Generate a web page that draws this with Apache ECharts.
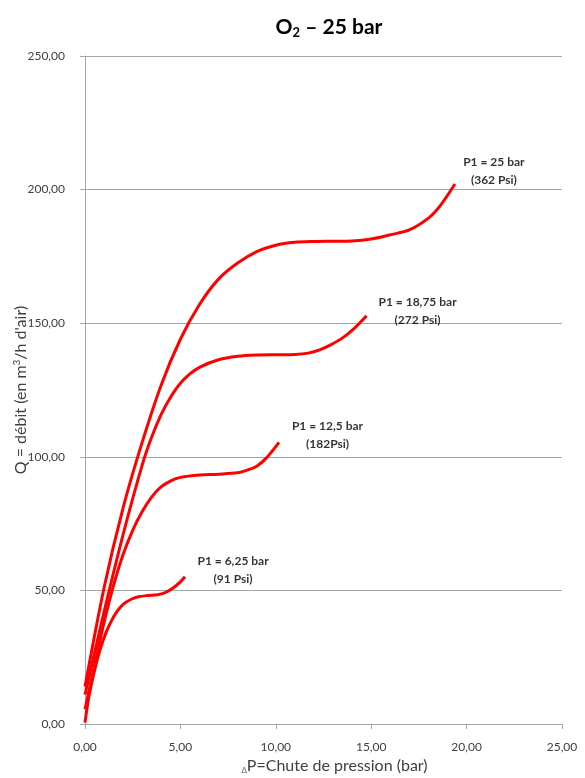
<!DOCTYPE html>
<html>
<head>
<meta charset="utf-8">
<script src="https://cdn.jsdelivr.net/npm/echarts@6/dist/echarts.min.js"></script>
<style>
html,body{margin:0;padding:0;background:#fff;}
#chart{width:585px;height:778px;}
</style>
</head>
<body>
<div id="chart"></div>
<script>
// Data (x = ΔP bar, y = Q m3/h)
var p25x = [0, 1, 2, 3, 4, 5, 6, 7, 8, 9, 10, 11, 12, 13, 14, 15, 16, 17, 18, 18.6, 19.39];
var p25y = [14, 51, 81, 105.5, 127, 144, 157, 166.5, 172.5, 176.8, 179.2, 180.3, 180.6, 180.7, 180.8, 181.5, 183.1, 184.9, 189.3, 193.8, 202.1];

var p1875x = [0, 1, 2, 3, 3.5, 4, 4.5, 5, 5.5, 6, 7, 8, 9, 10, 11, 11.7, 12.3, 12.9, 13.5, 14.1, 14.76];
var p1875y = [11, 42, 71, 97, 107.5, 116, 122.5, 127.5, 131, 133.5, 136.3, 137.6, 138.1, 138.2, 138.3, 138.8, 140, 142, 144.5, 148, 152.8];

var p125x = [0, 0.5, 1, 1.5, 2, 2.5, 3, 3.5, 4, 4.5, 5, 6, 7, 8, 8.5, 9, 9.5, 10.17];
var p125y = [5.5, 22, 38, 52, 63.5, 72.5, 79.5, 85, 88.8, 91, 92.3, 93.2, 93.5, 94, 95, 96.5, 99.5, 105.4];

var p625x = [0, 0.2, 0.5, 0.8, 1.1, 1.4, 1.7, 2.0, 2.4, 2.8, 3.3, 3.8, 4.2, 4.6, 5.0, 5.24];
var p625y = [0.5, 10, 20, 28, 34.2, 38.8, 42.3, 44.8, 46.6, 47.6, 48.1, 48.4, 49.2, 50.8, 53.2, 55.1];

// Annotations
var noteX = [21.43, 17.43, 12.71, 7.76];
var noteY = [207, 154.6, 108.2, 57.6];
var noteL1 = ['P1 = 25 bar', 'P1 = 18,75 bar', 'P1 = 12,5 bar', 'P1 = 6,25 bar'];
var noteL2 = ['(362 Psi)', '(272 Psi)', '(182Psi)', '(91 Psi)'];

var xTicks = {min: 0, max: 25, interval: 5};
var yTicks = {min: 0, max: 250, interval: 50};

function pairs(xs, ys) { return xs.map(function (x, i) { return [x, ys[i]]; }); }

var FONT = 'Lato, "Open Sans", sans-serif';
var chart = echarts.init(document.getElementById('chart'), null, {renderer: 'canvas'});

function curve(xs, ys) {
  return {
    type: 'line', data: pairs(xs, ys), smooth: 0.3, showSymbol: false, symbol: 'none',
    lineStyle: {color: '#ff0000', width: 3}, z: 3, animation: false
  };
}

var notes = noteX.map(function (x, i) { return {value: [x, noteY[i]], l1: noteL1[i], l2: noteL2[i]}; });

chart.setOption({
  animation: false,
  title: {
    text: '{a|O}{s|2}{a| – 25 bar}',
    left: 324, top: 10, textAlign: 'center',
    textStyle: {
      rich: {
        a: {fontFamily: FONT, fontWeight: 'bold', fontSize: 21, color: '#000'},
        s: {fontFamily: FONT, fontWeight: 'bold', fontSize: 13, color: '#000', padding: [11, 0, 0, 0]}
      }
    }
  },
  grid: {left: 85, right: 23, top: 56, bottom: 54, containLabel: false, outerBoundsMode: 'none'},
  xAxis: {
    type: 'value', min: xTicks.min, max: xTicks.max, interval: xTicks.interval,
    axisLine: {show: true, lineStyle: {color: '#a6a6a6', width: 1}},
    axisTick: {show: true, length: 5, lineStyle: {color: '#a6a6a6'}},
    splitLine: {show: false},
    axisLabel: {
      fontFamily: FONT, fontSize: 12, color: '#404040', margin: 17,
      formatter: function (v) { return v.toFixed(2).replace('.', ','); }
    },
    name: '{d|Δ}{n|P=Chute de pression (bar)}',
    nameLocation: 'middle', nameGap: 33, nameMoveOverlap: false,
    nameTextStyle: {
      padding: [0, 0, 0, 22],
      rich: {
        d: {fontFamily: FONT, fontSize: 8, color: '#595959', padding: [9, 0, 0, 0]},
        n: {fontFamily: FONT, fontSize: 16, color: '#404040'}
      }
    }
  },
  yAxis: {
    type: 'value', min: yTicks.min, max: yTicks.max, interval: yTicks.interval,
    axisLine: {show: true, lineStyle: {color: '#a6a6a6', width: 1}},
    axisTick: {show: true, length: 5, lineStyle: {color: '#a6a6a6'}},
    splitLine: {show: true, lineStyle: {color: '#a6a6a6', width: 1}},
    axisLabel: {
      fontFamily: FONT, fontSize: 12, color: '#404040', margin: 20,
      formatter: function (v) { return v.toFixed(2).replace('.', ','); }
    },
    name: '{t|Q = débit (en m}{u|3}{t|/h d\'air)}',
    nameLocation: 'middle', nameGap: 56, nameRotate: 90, nameMoveOverlap: false,
    nameTextStyle: {
      rich: {
        t: {fontFamily: FONT, fontSize: 16, color: '#404040'},
        u: {fontFamily: FONT, fontSize: 10, color: '#404040', padding: [0, 0, 7, 0]}
      }
    }
  },
  series: [
    curve(p25x, p25y),
    curve(p1875x, p1875y),
    curve(p125x, p125y),
    curve(p625x, p625y),
    {
      type: 'scatter', data: notes, symbolSize: 0, silent: true, z: 5,
      label: {
        show: true, position: 'inside', align: 'center', verticalAlign: 'middle',
        fontFamily: FONT, fontWeight: 'bold', fontSize: 12, color: '#000', lineHeight: 18,
        formatter: function (p) { return p.data.l1 + '\n' + p.data.l2; }
      }
    }
  ]
});
</script>
</body>
</html>
